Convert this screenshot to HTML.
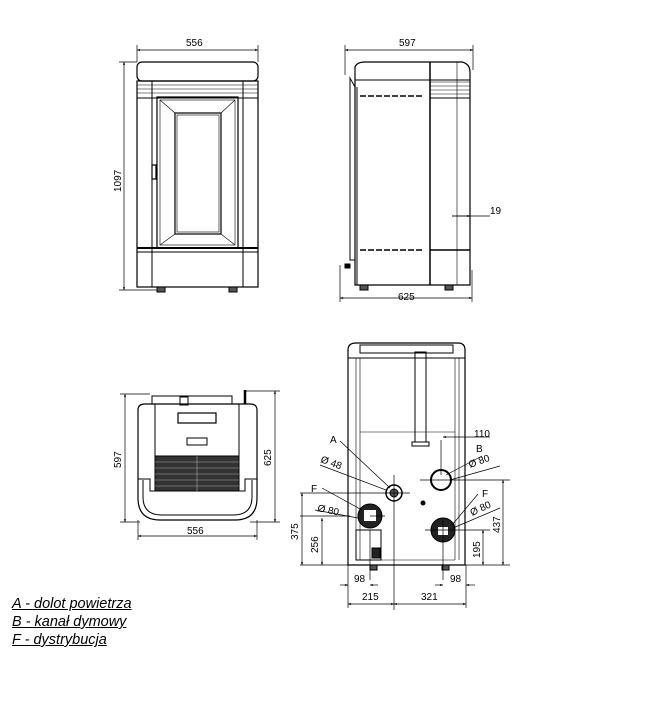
<!DOCTYPE html>
<html><head><style>
body{margin:0;background:#fff;width:647px;height:705px;overflow:hidden;position:relative;font-family:"Liberation Sans",sans-serif}
.lg{position:absolute;left:12px;font-style:italic;font-size:14.5px;text-decoration:underline;color:#000;line-height:17px}
svg text{font-family:"Liberation Sans",sans-serif;font-size:10px;fill:#000}
</style></head><body>
<svg width="647" height="705" style="position:absolute;left:0;top:0" fill="none" stroke="#000" stroke-width="1">
<defs><marker id="a" viewBox="0 0 10 10" refX="10" refY="5" markerWidth="6" markerHeight="4" orient="auto-start-reverse"><path d="M0,1L10,5L0,9z" fill="#000" stroke="none"/></marker></defs>
<g stroke-width="0.7">
<!-- FRONT -->
<line x1="137" y1="50" x2="258" y2="50" marker-start="url(#a)" marker-end="url(#a)"/>
<line x1="137" y1="45" x2="137" y2="62"/><line x1="258" y1="45" x2="258" y2="62"/>
<line x1="124" y1="62" x2="124" y2="290" marker-start="url(#a)" marker-end="url(#a)"/>
<line x1="119" y1="62" x2="137" y2="62"/><line x1="119" y1="290" x2="160" y2="290"/>
</g>
<text x="186" y="46" stroke="none">556</text>
<text x="0" y="0" stroke="none" transform="translate(121,192) rotate(-90)">1097</text>
<rect x="137" y="62" width="121" height="19" rx="5" stroke-width="1.2"/>
<rect x="137" y="81" width="121" height="206" stroke-width="1.2"/>
<line x1="152" y1="81" x2="152" y2="287"/><line x1="243" y1="81" x2="243" y2="287"/>
<line x1="137" y1="98" x2="258" y2="98"/>
<g stroke-width="0.6"><line x1="137" y1="85" x2="258" y2="85"/><line x1="137" y1="89" x2="258" y2="89"/><line x1="137" y1="93" x2="258" y2="93"/></g>
<rect x="157" y="97" width="81" height="151" stroke-width="1.2"/>
<rect x="160" y="100" width="75" height="145" stroke-width="0.6"/>
<rect x="175" y="113" width="46" height="121" stroke-width="1.2"/>
<rect x="177" y="115" width="42" height="117" stroke-width="0.6"/>
<g stroke-width="0.6"><line x1="160" y1="100" x2="175" y2="113"/><line x1="235" y1="100" x2="221" y2="113"/><line x1="160" y1="245" x2="175" y2="234"/><line x1="235" y1="245" x2="221" y2="234"/></g>
<rect x="152" y="165" width="4" height="14" stroke-width="1.2"/>
<line x1="137" y1="248" x2="258" y2="248" stroke-width="2"/>
<line x1="137" y1="252" x2="258" y2="252"/>
<rect x="157" y="287" width="8" height="5" fill="#555"/><rect x="229" y="287" width="8" height="5" fill="#555"/>
<!-- SIDE -->
<g stroke-width="0.7">
<line x1="345" y1="50" x2="473" y2="50" marker-start="url(#a)" marker-end="url(#a)"/>
<line x1="345" y1="45" x2="345" y2="75"/><line x1="473" y1="45" x2="473" y2="70"/>
<line x1="340" y1="298" x2="472" y2="298" marker-start="url(#a)" marker-end="url(#a)"/>
<line x1="340" y1="265" x2="340" y2="302"/><line x1="472" y1="270" x2="472" y2="302"/>
<line x1="452" y1="216" x2="490" y2="216"/><line x1="452" y1="216" x2="470" y2="216" marker-end="url(#a)"/>
</g>
<text x="399" y="46" stroke="none">597</text>
<text x="398" y="300" stroke="none">625</text>
<text x="490" y="214" stroke="none">19</text>
<path d="M355,87 L355,67 Q357,62 365,62 L462,62 Q470,64 470,72 L470,285 L355,285 Z" stroke-width="1.2"/>
<line x1="355" y1="80" x2="470" y2="80"/>
<line x1="357" y1="87" x2="357" y2="285"/>
<line x1="430" y1="62" x2="430" y2="285" stroke-width="1.5"/>
<line x1="457" y1="62" x2="457" y2="285" stroke-width="0.6"/>
<g stroke-width="0.6"><line x1="430" y1="82" x2="470" y2="82"/><line x1="430" y1="86" x2="470" y2="86"/><line x1="430" y1="90" x2="470" y2="90"/><line x1="430" y1="94" x2="470" y2="94"/></g>
<line x1="430" y1="98" x2="470" y2="98"/>
<line x1="360" y1="96" x2="424" y2="96" stroke-dasharray="6,2" stroke-width="1.4"/>
<line x1="360" y1="250" x2="424" y2="250" stroke-dasharray="6,2" stroke-width="1.4"/>
<line x1="430" y1="250" x2="470" y2="250" stroke-width="1.5"/>
<path d="M355,87 L350,78 L350,260 L355,260"/>
<rect x="345" y="264" width="5" height="4" fill="#000"/>
<rect x="360" y="285" width="8" height="5" fill="#555"/><rect x="445" y="285" width="8" height="5" fill="#555"/>
<!-- TOP -->
<g stroke-width="0.7">
<line x1="138" y1="536" x2="257" y2="536" marker-start="url(#a)" marker-end="url(#a)"/>
<line x1="138" y1="520" x2="138" y2="540"/><line x1="257" y1="520" x2="257" y2="540"/>
<line x1="125" y1="394" x2="125" y2="522" marker-start="url(#a)" marker-end="url(#a)"/>
<line x1="120" y1="394" x2="150" y2="394"/><line x1="120" y1="522" x2="140" y2="522"/>
<line x1="275" y1="391" x2="275" y2="522" marker-start="url(#a)" marker-end="url(#a)"/>
<line x1="245" y1="391" x2="280" y2="391"/><line x1="250" y1="522" x2="280" y2="522"/>
</g>
<text x="187" y="534" stroke="none">556</text>
<text x="0" y="0" stroke="none" transform="translate(121,468) rotate(-90)">597</text>
<text x="0" y="0" stroke="none" transform="translate(271,466) rotate(-90)">625</text>
<path d="M138,410 Q138,404 145,404 L250,404 Q257,404 257,410 L257,498 Q257,520 235,520 L160,520 Q138,520 138,498 Z" stroke-width="1.2"/>
<path d="M143,480 L143,497 Q143,515 162,515 L233,515 Q252,515 252,497 L252,480"/>
<rect x="152" y="396" width="80" height="8"/><rect x="180" y="397" width="8" height="8"/>
<line x1="245" y1="390" x2="245" y2="404" stroke-width="2.5"/>
<line x1="155" y1="404" x2="155" y2="456"/><line x1="239" y1="404" x2="239" y2="456"/>
<rect x="178" y="413" width="38" height="10" stroke-width="1.2"/>
<rect x="187" y="438" width="20" height="7"/>
<rect x="155" y="456" width="84" height="35" fill="#333"/>
<g stroke="#aaa" stroke-width="0.6"><line x1="155" y1="462" x2="239" y2="462"/><line x1="155" y1="468" x2="239" y2="468"/><line x1="155" y1="474" x2="239" y2="474"/><line x1="155" y1="480" x2="239" y2="480"/><line x1="155" y1="486" x2="239" y2="486"/><line x1="197" y1="456" x2="197" y2="491"/></g>
<path d="M138,479 L150,479 L150,491 L155,491 M257,479 L245,479 L245,491 L239,491"/>
<!-- REAR -->
<path d="M348,565 L348,350 Q348,343 356,343 L458,343 Q465,343 465,350 L465,565 Z" stroke-width="1.2"/>
<line x1="348" y1="358" x2="465" y2="358"/>
<rect x="360" y="345" width="93" height="8"/>
<g stroke-width="0.6"><line x1="356" y1="358" x2="356" y2="560"/><line x1="360" y1="358" x2="360" y2="560"/><line x1="455" y1="358" x2="455" y2="560"/><line x1="459" y1="358" x2="459" y2="560"/></g>
<rect x="415" y="352" width="11" height="90" stroke-width="1"/>
<rect x="412" y="442" width="17" height="4"/>
<line x1="360" y1="432" x2="455" y2="432" stroke-width="0.6"/>
<line x1="360" y1="560" x2="455" y2="560" stroke-width="0.6"/>
<circle cx="394" cy="493" r="8" stroke-width="1.5"/><circle cx="394" cy="493" r="4" fill="#555"/>
<circle cx="441" cy="480" r="10" stroke-width="2"/>
<circle cx="370" cy="516" r="12" fill="#222"/><rect x="364" y="510" width="12" height="11" fill="#fff" stroke="none"/>
<circle cx="443" cy="530" r="12" fill="#222"/><rect x="438" y="527" width="10" height="8" fill="#fff" stroke="none"/>
<circle cx="423" cy="503" r="2" fill="#000"/>
<rect x="356" y="530" width="25" height="30"/><rect x="372" y="548" width="8" height="10" fill="#222"/>
<rect x="370" y="565" width="7" height="5" fill="#555"/><rect x="442" y="565" width="7" height="5" fill="#555"/>
<g stroke-width="0.7">
<line x1="394" y1="475" x2="394" y2="610"/><line x1="410" y1="493" x2="300" y2="493"/>
<line x1="441" y1="440" x2="441" y2="475"/><line x1="420" y1="480" x2="510" y2="480"/>
<line x1="350" y1="516" x2="300" y2="516"/><line x1="370" y1="516" x2="385" y2="516"/>
<line x1="425" y1="530" x2="490" y2="530"/><line x1="443" y1="520" x2="443" y2="580"/>
<line x1="370" y1="530" x2="370" y2="580"/>
<line x1="300" y1="565" x2="348" y2="565"/><line x1="465" y1="565" x2="510" y2="565"/>
<line x1="302" y1="493" x2="302" y2="565" marker-start="url(#a)" marker-end="url(#a)"/>
<line x1="322" y1="518" x2="322" y2="565" marker-start="url(#a)" marker-end="url(#a)"/>
<line x1="503" y1="480" x2="503" y2="565" marker-start="url(#a)" marker-end="url(#a)"/>
<line x1="483" y1="530" x2="483" y2="565" marker-start="url(#a)" marker-end="url(#a)"/>
<line x1="348" y1="565" x2="348" y2="608"/><line x1="466" y1="565" x2="466" y2="608"/>
<line x1="340" y1="585" x2="348" y2="585" marker-end="url(#a)"/><line x1="370" y1="585" x2="378" y2="585" marker-start="url(#a)"/>
<line x1="435" y1="585" x2="443" y2="585" marker-end="url(#a)"/><line x1="466" y1="585" x2="475" y2="585" marker-start="url(#a)"/>
<line x1="348" y1="604" x2="394" y2="604" marker-start="url(#a)" marker-end="url(#a)"/>
<line x1="394" y1="604" x2="466" y2="604" marker-start="url(#a)" marker-end="url(#a)"/>
<line x1="455" y1="437" x2="490" y2="437"/><line x1="443" y1="437" x2="455" y2="437" marker-start="url(#a)"/>
<line x1="340" y1="441" x2="390" y2="488"/><line x1="320" y1="465" x2="386" y2="490"/>
<line x1="322" y1="488" x2="362" y2="510"/><line x1="315" y1="510" x2="358" y2="518"/>
<line x1="482" y1="456" x2="446" y2="475"/><line x1="500" y1="466" x2="450" y2="480"/>
<line x1="478" y1="494" x2="452" y2="525"/><line x1="500" y1="508" x2="453" y2="528"/>
</g>
<g stroke="none">
<text x="330" y="443" font-size="12">A</text>
<text x="320" y="462" transform="rotate(20 320 462)">Ø  48</text>
<text x="311" y="492" font-size="12">F</text>
<text x="317" y="511" transform="rotate(12 317 511)">Ø  80</text>
<text x="476" y="452" font-size="12">B</text>
<text x="470" y="468" transform="rotate(-20 470 468)">Ø  80</text>
<text x="482" y="497" font-size="12">F</text>
<text x="472" y="516" transform="rotate(-25 472 516)">Ø  80</text>
<text x="474" y="437">110</text>
<text x="0" y="0" transform="translate(298,540) rotate(-90)">375</text>
<text x="0" y="0" transform="translate(318,553) rotate(-90)">256</text>
<text x="0" y="0" transform="translate(500,533) rotate(-90)">437</text>
<text x="0" y="0" transform="translate(480,558) rotate(-90)">195</text>
<text x="354" y="582">98</text><text x="450" y="582">98</text>
<text x="362" y="600">215</text><text x="421" y="600">321</text>
</g>
</svg>
<div class="lg" style="top:596px">A - dolot powietrza</div>
<div class="lg" style="top:614px">B - kanał dymowy</div>
<div class="lg" style="top:632px">F - dystrybucja</div>
</body></html>
